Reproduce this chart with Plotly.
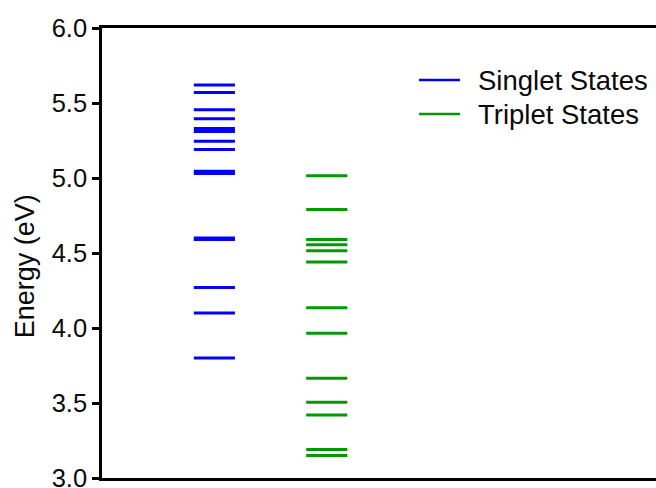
import plotly.graph_objects as go

# Excited-state energies (eV)
singlet_energies = [5.62, 5.57, 5.455, 5.395, 5.33, 5.31, 5.245, 5.19,
                    5.045, 5.03, 4.60, 4.59, 4.27, 4.10, 3.80]
triplet_energies = [5.015, 4.79, 4.59, 4.555, 4.515, 4.44, 4.135,
                    3.965, 3.665, 3.505, 3.42, 3.19, 3.15]
series_names = ["Singlet States", "Triplet States"]
series_colors = ["#0000ff", "#009a00"]
series_positions = [1.0, 2.0]
y_ticks = [3.0, 3.5, 4.0, 4.5, 5.0, 5.5, 6.0]

HALF_WIDTH = 0.183
FONT = "Liberation Sans, Arial, sans-serif"
TEXT_COLOR = "#0a0a0a"


def level_segments(center, energies):
    xs, ys = [], []
    for e in energies:
        xs += [center - HALF_WIDTH, center + HALF_WIDTH, None]
        ys += [e, e, None]
    return xs, ys


fig = go.Figure()
for name, color, pos, energies in zip(series_names, series_colors, series_positions,
                                      [singlet_energies, triplet_energies]):
    xs, ys = level_segments(pos, energies)
    fig.add_trace(go.Scatter(x=xs, y=ys, mode="lines", name=name,
                             line=dict(color=color, width=3), showlegend=False,
                             hoverinfo="skip"))

# Legend drawn as short line samples with labels
legend_y = [80, 114]
for name, color, ly in zip(series_names, series_colors, legend_y):
    yp = (477.5 - ly) / 449.5
    fig.add_shape(type="line", xref="paper", yref="paper",
                  x0=(419 - 102) / 554, x1=(460 - 102) / 554, y0=yp, y1=yp,
                  line=dict(color=color, width=2.5))
    fig.add_annotation(text=name, xref="paper", yref="paper",
                       x=(476 - 102) / 554, y=yp, xanchor="left", yanchor="middle",
                       showarrow=False, font=dict(family=FONT, size=27.5, color=TEXT_COLOR))

fig.add_annotation(text="Energy (eV)", xref="paper", yref="paper",
                   x=0, xshift=-77, y=(477.5 - 266) / 449.5, textangle=-90,
                   xanchor="center", yanchor="middle", showarrow=False,
                   font=dict(family=FONT, size=27, color=TEXT_COLOR))

fig.update_layout(
    width=656, height=488,
    margin=dict(l=102, r=0, t=28, b=10, autoexpand=False),
    paper_bgcolor="white", plot_bgcolor="white",
    showlegend=False,
    font=dict(family=FONT, size=26, color=TEXT_COLOR),
    xaxis=dict(range=[0, 4.93], showgrid=False, zeroline=False,
               showticklabels=False, ticks="", showline=True, automargin=False,
               linecolor="black", linewidth=2.5, mirror=True),
    yaxis=dict(range=[3.0, 6.0], tickvals=y_ticks,
               ticktext=[f"{v:.1f}" for v in y_ticks],
               showgrid=False, zeroline=False, ticks="outside", ticklen=7,
               tickwidth=2.5, tickcolor="black", showline=True, automargin=False,
               linecolor="black", linewidth=2.5, mirror=False,
               ticklabeloverflow="allow",
               tickfont=dict(family=FONT, size=25.5, color=TEXT_COLOR)),
)

fig.write_html("out.html")
